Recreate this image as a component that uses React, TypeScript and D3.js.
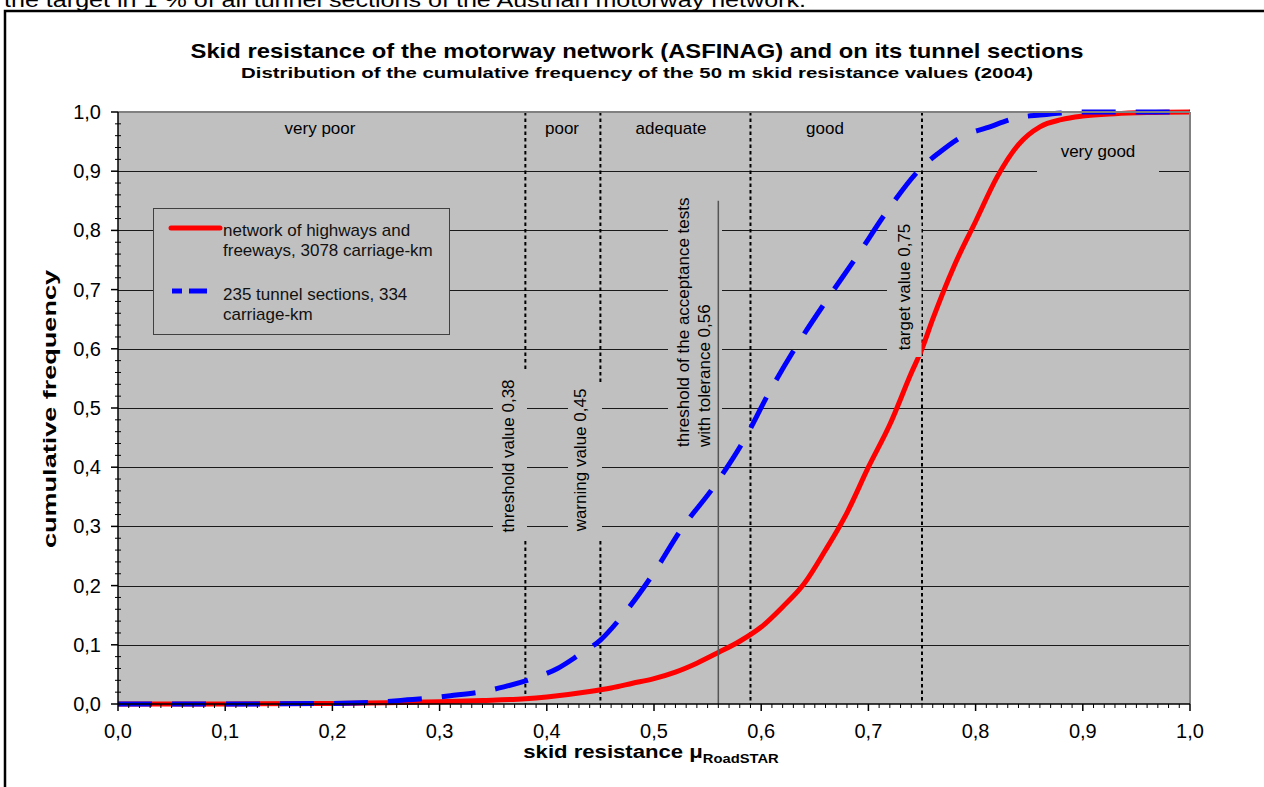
import React from "react";
import * as d3 from "d3";

// ---- data ----
const networkX = [0, 0.1, 0.2, 0.25, 0.3, 0.34, 0.38, 0.4, 0.42, 0.44, 0.46, 0.48, 0.5, 0.52, 0.54, 0.56, 0.58, 0.6, 0.62, 0.64, 0.66, 0.68, 0.7, 0.72, 0.74, 0.75, 0.76, 0.78, 0.8, 0.82, 0.84, 0.86, 0.88, 0.9, 0.93, 0.96, 1.0];
const networkY = [0, 0, 0.001, 0.002, 0.004, 0.006, 0.009, 0.012, 0.016, 0.021, 0.027, 0.035, 0.043, 0.054, 0.069, 0.087, 0.106, 0.13, 0.164, 0.203, 0.26, 0.323, 0.4, 0.472, 0.559, 0.6, 0.65, 0.74, 0.815, 0.89, 0.945, 0.975, 0.987, 0.993, 0.997, 0.999, 1.0];

const tunnelX = [0, 0.1, 0.2, 0.24, 0.27, 0.29, 0.31, 0.34, 0.36, 0.385, 0.41, 0.43, 0.45, 0.47, 0.5, 0.525, 0.557, 0.585, 0.607, 0.633, 0.661, 0.69, 0.718, 0.75, 0.765, 0.79, 0.81, 0.838, 0.86, 0.9, 1.0];
const tunnelY = [0, 0, 0.001, 0.003, 0.007, 0.01, 0.014, 0.021, 0.029, 0.042, 0.06, 0.083, 0.108, 0.148, 0.222, 0.294, 0.37, 0.449, 0.525, 0.605, 0.682, 0.758, 0.834, 0.907, 0.93, 0.961, 0.973, 0.99, 0.995, 1.0, 1.0];

const dottedLimits = [0.38, 0.45, 0.59, 0.75];
const acceptanceLimit = 0.56;
const acceptanceTop = 0.85;

const xTicks = [0, 0.1, 0.2, 0.3, 0.4, 0.5, 0.6, 0.7, 0.8, 0.9, 1.0];
const yTicks = [0, 0.1, 0.2, 0.3, 0.4, 0.5, 0.6, 0.7, 0.8, 0.9, 1.0];

const titleText = "Skid resistance of the motorway network (ASFINAG) and on its tunnel sections";
const subtitleText = "Distribution of the cumulative frequency of the 50 m skid resistance values (2004)";
const topText = "the target in 1 % of all tunnel sections of the Austrian motorway network.";
const legendNetwork = ["network of highways and", "freeways, 3078 carriage-km"];
const legendTunnel = ["235 tunnel sections, 334", "carriage-km"];

const FONT = "'Liberation Sans', Arial, Helvetica, sans-serif";

const fmt = (v: number) => v.toFixed(1).replace(".", ",");

export default function App() {
  const xs = d3.scaleLinear().domain([0, 1]).range([118, 1190]);
  const ys = d3.scaleLinear().domain([0, 1]).range([704, 112]);

  const line = d3
    .line<[number, number]>()
    .x((d) => xs(d[0]))
    .y((d) => ys(d[1]))
    .curve(d3.curveMonotoneX);

  const redPath = line(networkX.map((x, i) => [x, networkY[i]] as [number, number])) || "";
  const bluePath = line(tunnelX.map((x, i) => [x, tunnelY[i]] as [number, number])) || "";

  const minorX = d3.range(0, 101).map((i) => i / 100).filter((_, i) => i % 10 !== 0);
  const minorY = d3.range(0, 51).map((i) => i / 50).filter((_, i) => i % 5 !== 0);

  const bg = "#C0C0C0";

  return (
    <svg
      width={1264}
      height={787}
      style={{ position: "absolute", left: 0, top: 0, display: "block", background: "#fff" }}
      fontFamily={FONT}
    >
      {/* clipped document text above the chart */}
      <text x={4} y={6.5} fontSize={21} textLength={802} lengthAdjust="spacingAndGlyphs" fill="#000">
        {topText}
      </text>
      {/* outer frame */}
      <rect x={5} y={11} width={1300} height={820} fill="#fff" stroke="#000" strokeWidth={2.5} />

      {/* titles */}
      <text x={637} y={58} textAnchor="middle" fontSize={21} fontWeight="bold" textLength={893} lengthAdjust="spacingAndGlyphs">
        {titleText}
      </text>
      <text x={637} y={78} textAnchor="middle" fontSize={15.5} fontWeight="bold" textLength={792} lengthAdjust="spacingAndGlyphs">
        {subtitleText}
      </text>

      {/* plot area */}
      <rect x={xs(0)} y={ys(1)} width={xs(1) - xs(0)} height={ys(0) - ys(1)} fill={bg} />

      {/* gridlines */}
      {yTicks.filter((t) => t > 0 && t < 1).map((t) => (
        <line key={"g" + t} x1={xs(0)} x2={xs(1)} y1={Math.round(ys(t)) + 0.5} y2={Math.round(ys(t)) + 0.5} stroke="#1a1a1a" strokeWidth={1} />
      ))}

      {/* dotted limit lines */}
      {dottedLimits.map((v) => (
        <line key={"d" + v} x1={xs(v)} x2={xs(v)} y1={ys(1)} y2={ys(0)} stroke="#000" strokeWidth={2} strokeDasharray="3.5 3" />
      ))}

      {/* curves */}
      <path d={redPath} fill="none" stroke="#FF0000" strokeWidth={5} strokeLinejoin="round" />
      <path d={bluePath} fill="none" stroke="#0000FF" strokeWidth={5} strokeDasharray="34 20" />

      {/* rotated label boxes */}
      <rect x={493} y={370} width={34} height={170} fill={bg} />
      <text transform={`translate(508,456) rotate(-90)`} textAnchor="middle" dominantBaseline="central" fontSize={17} fill="#000">
        threshold value 0,38
      </text>
      <rect x={568} y={385} width={34} height={155} fill={bg} />
      <text transform={`translate(580,460) rotate(-90)`} textAnchor="middle" dominantBaseline="central" fontSize={17} fill="#000">
        warning value 0,45
      </text>
      <rect x={668} y={190} width={54} height={265} fill={bg} />
      <text transform={`translate(683,447) rotate(-90)`} textAnchor="start" dominantBaseline="central" fontSize={17} fill="#000">
        threshold of the acceptance tests
      </text>
      <text transform={`translate(704,447) rotate(-90)`} textAnchor="start" dominantBaseline="central" fontSize={17} fill="#000">
        with tolerance 0,56
      </text>
      <rect x={887} y={220} width={34.5} height={137} fill={bg} />
      <text transform={`translate(904,287) rotate(-90)`} textAnchor="middle" dominantBaseline="central" fontSize={17} fill="#000">
        target value 0,75
      </text>

      {/* acceptance solid line */}
      <line x1={xs(acceptanceLimit)} x2={xs(acceptanceLimit)} y1={ys(acceptanceTop)} y2={ys(0)} stroke="#555" strokeWidth={1.5} />

      {/* category labels */}
      <text x={320} y={134} textAnchor="middle" fontSize={17}>very poor</text>
      <text x={562} y={134} textAnchor="middle" fontSize={17}>poor</text>
      <text x={671} y={134} textAnchor="middle" fontSize={17}>adequate</text>
      <text x={825} y={134} textAnchor="middle" fontSize={17}>good</text>
      <rect x={1037} y={142} width={122} height={36} fill={bg} />
      <text x={1098} y={157} textAnchor="middle" fontSize={17}>very good</text>

      {/* legend */}
      <rect x={153.5} y={208.5} width={296} height={126} fill={bg} stroke="#404040" strokeWidth={1} />
      <line x1={171} x2={220} y1={228} y2={228} stroke="#FF0000" strokeWidth={5} strokeLinecap="round" />
      <line x1={172} x2={207} y1={291} y2={291} stroke="#0000FF" strokeWidth={5} strokeDasharray="10 7 18 60" />
      <text x={223} fontSize={17} fill="#111">
        <tspan x={223} y={235.5}>{legendNetwork[0]}</tspan>
        <tspan x={223} y={255.5}>{legendNetwork[1]}</tspan>
      </text>
      <text x={223} fontSize={17} fill="#111">
        <tspan x={223} y={300}>{legendTunnel[0]}</tspan>
        <tspan x={223} y={320}>{legendTunnel[1]}</tspan>
      </text>

      {/* plot borders */}
      <line x1={xs(0)} x2={xs(1)} y1={ys(1)} y2={ys(1)} stroke="#808080" strokeWidth={2} />
      <line x1={xs(1)} x2={xs(1)} y1={ys(1)} y2={ys(0)} stroke="#808080" strokeWidth={2} />
      {/* axes */}
      <line x1={xs(0)} x2={xs(1)} y1={ys(0)} y2={ys(0)} stroke="#000" strokeWidth={1.5} />
      <line x1={xs(0)} x2={xs(0)} y1={ys(1)} y2={ys(0)} stroke="#000" strokeWidth={1.5} />

      {/* x ticks */}
      {xTicks.map((t) => (
        <g key={"xt" + t}>
          <line x1={xs(t)} x2={xs(t)} y1={ys(0)} y2={ys(0) + 7} stroke="#000" strokeWidth={1.5} />
          <text x={xs(t)} y={738} textAnchor="middle" fontSize={20}>{fmt(t)}</text>
        </g>
      ))}
      {minorX.map((t) => (
        <line key={"xm" + t} x1={xs(t)} x2={xs(t)} y1={ys(0)} y2={ys(0) + 4} stroke="#000" strokeWidth={1} />
      ))}

      {/* y ticks */}
      {yTicks.map((t) => (
        <g key={"yt" + t}>
          <line x1={xs(0) - 7} x2={xs(0)} y1={ys(t)} y2={ys(t)} stroke="#000" strokeWidth={1.5} />
          <text x={101} y={ys(t)} textAnchor="end" dominantBaseline="central" fontSize={20}>{fmt(t)}</text>
        </g>
      ))}
      {minorY.map((t) => (
        <line key={"ym" + t} x1={xs(0) - 3} x2={xs(0) + 3} y1={ys(t)} y2={ys(t)} stroke="#000" strokeWidth={1} />
      ))}

      {/* axis titles */}
      <text transform="translate(49,409) rotate(-90)" textAnchor="middle" dominantBaseline="central" fontSize={19} fontWeight="bold" textLength={278} lengthAdjust="spacingAndGlyphs">
        cumulative frequency
      </text>
      <g transform="translate(651,758) scale(1.23,1)">
        <text x={0} y={0} textAnchor="middle" fontSize={18} fontWeight="bold">
          skid resistance μ<tspan fontSize={12} dy={5}>RoadSTAR</tspan>
        </text>
      </g>
    </svg>
  );
}
